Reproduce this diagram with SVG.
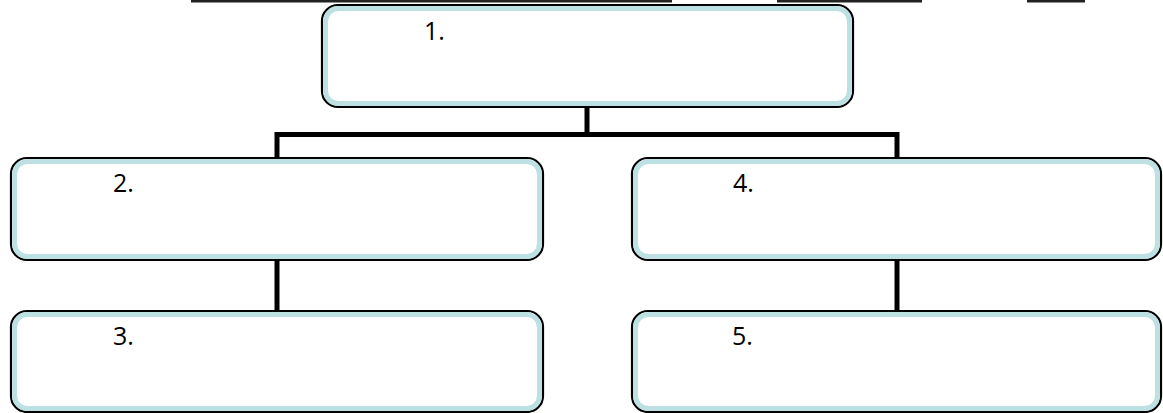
<svg xmlns="http://www.w3.org/2000/svg" width="1163" height="413" viewBox="0 0 1163 413">
<style>
.outer{fill:#ffffff;stroke:#000000;stroke-width:2.2}
.inner{fill:#ffffff;stroke:#bde0e3;stroke-width:5}
.lbl{font-family:"Open Sans","Liberation Sans",sans-serif;font-size:25px;fill:#000000}
.conn{stroke:#000000;stroke-width:5;fill:none;stroke-linecap:square}
.ul{fill:#222222}
</style>
<rect class="ul" x="191" y="0" width="481" height="2.5"/>
<rect class="ul" x="777" y="0" width="145" height="2.5"/>
<rect class="ul" x="1027" y="0" width="58" height="2.5"/>
<g id="connectors">
<path class="conn" d="M587 107 V134.5 M277 157 V134.5 H897 V157"/>
<path class="conn" d="M277 261 V310"/>
<path class="conn" d="M897 261 V310"/>
</g>
<g id="node1">
<rect class="outer" x="322" y="5" width="531" height="102" rx="16"/>
<rect class="inner" x="325.5" y="8.5" width="524" height="95" rx="13"/>
<text class="lbl" x="424" y="40">1.</text>
</g>
<g id="node2">
<rect class="outer" x="11" y="158" width="532" height="102" rx="16"/>
<rect class="inner" x="14.5" y="161.5" width="525" height="95" rx="13"/>
<text class="lbl" x="113" y="192">2.</text>
</g>
<g id="node3">
<rect class="outer" x="11" y="311" width="532" height="101" rx="16"/>
<rect class="inner" x="14.5" y="314.5" width="525" height="94" rx="13"/>
<text class="lbl" x="113" y="345">3.</text>
</g>
<g id="node4">
<rect class="outer" x="632" y="158" width="529" height="102" rx="16"/>
<rect class="inner" x="635.5" y="161.5" width="522" height="95" rx="13"/>
<text class="lbl" x="733" y="192">4.</text>
</g>
<g id="node5">
<rect class="outer" x="632" y="311" width="529" height="101" rx="16"/>
<rect class="inner" x="635.5" y="314.5" width="522" height="94" rx="13"/>
<text class="lbl" x="732" y="345">5.</text>
</g>
</svg>
